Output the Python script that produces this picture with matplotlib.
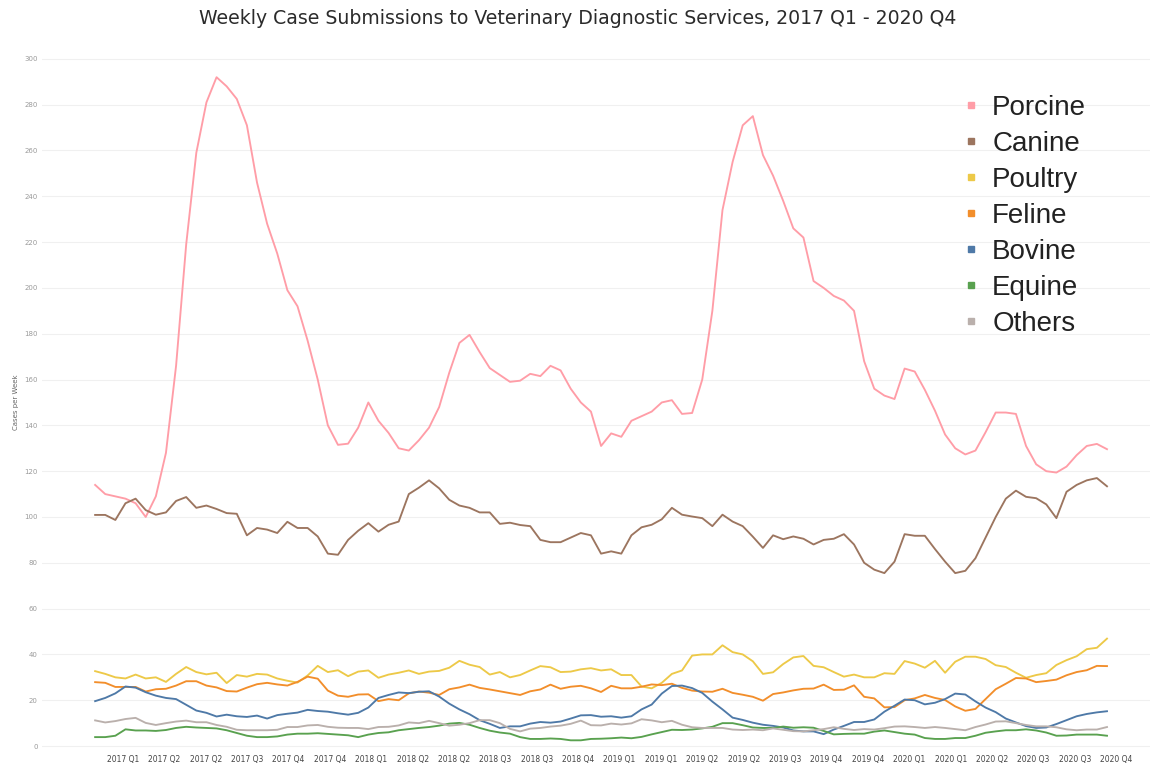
import numpy as np
import matplotlib
matplotlib.use("Agg")
import matplotlib.pyplot as plt
from matplotlib.lines import Line2D

# ---- data: fortnightly samples of weekly case counts (week index 0..200) ----
weeks = np.arange(0, 201, 2)

porcine = [114, 110, 109, 108, 106, 100, 109, 128, 166, 219,
           259, 281, 292, 288, 282.5, 271, 246, 228, 215, 199,
           192, 177, 160, 140, 131.5, 132, 139, 150, 142, 136.7,
           130, 129, 133.5, 139, 148, 163, 176, 179.5, 172, 165,
           162, 159, 159.5, 162.5, 161.5, 166, 164, 156, 150, 146,
           131, 136.5, 135, 142, 144, 146, 150, 151, 145, 145.4,
           160, 190, 234, 255, 271, 275, 258, 249, 238, 226,
           222, 203, 200, 196.5, 194.5, 190, 168, 156, 153, 151.5,
           164.8, 163.5, 155.5, 146.4, 136, 130, 127.3, 129, 137, 145.6,
           145.6, 145, 131, 123, 120, 119.4, 122, 127, 131, 131.9,
           129.6]

canine = [100.9, 100.9, 98.7, 106, 108, 103, 101, 102, 107, 108.7,
          104, 105, 103.5, 101.7, 101.4, 92, 95.2, 94.5, 93, 97.9,
          95.2, 95.2, 91.5, 84, 83.5, 90, 94, 97.3, 93.6, 96.6,
          98, 110, 112.8, 116, 112.5, 107.5, 105, 104, 102, 102,
          97, 97.5, 96.5, 96, 90, 89, 89, 91, 93, 92,
          84, 85, 84, 92, 95.5, 96.6, 99, 104, 101, 100.2,
          99.5, 96, 101, 98, 96, 91.4, 86.5, 92, 90.3, 91.5,
          90.5, 88, 90, 90.5, 92.5, 88, 80, 77, 75.5, 80.5,
          92.5, 91.8, 91.8, 86, 80.5, 75.5, 76.5, 82, 91, 100,
          108, 111.5, 108.8, 108.2, 105.5, 99.5, 111, 114, 116, 117,
          113.4]

poultry = [32.7, 31.5, 30, 29.5, 31.2, 29.5, 30, 28, 31.5, 34.5,
           32.3, 31.3, 32, 27.5, 31, 30.3, 31.5, 31.2, 29.5, 28.5,
           27.7, 30.8, 35, 32.3, 33.1, 30.5, 32.5, 33, 29.8, 31.2,
           32, 33, 31.5, 32.5, 32.8, 34.2, 37.2, 35.5, 34.5, 31.2,
           32.3, 30, 31, 33, 34.9, 34.4, 32.3, 32.5, 33.5, 34,
           33, 33.5, 31, 31, 26, 25.2, 27.6, 31.5, 33, 39.5,
           40, 40, 44, 41, 40, 37, 31.5, 32.2, 35.8, 38.7,
           39.3, 35, 34.4, 32.3, 30.3, 31.2, 30, 30, 31.8, 31.5,
           37.1, 36, 34.2, 37.2, 32, 36.8, 39, 39, 38, 35.3,
           34.5, 32, 29.8, 31, 31.8, 35.4, 37.5, 39.2, 42.3, 42.9,
           46.9]

feline = [27.9, 27.6, 25.8, 25.8, 25.8, 23.8, 24.8, 25, 26.4, 28.3,
          28.3, 26.4, 25.6, 24, 23.8, 25.5, 27, 27.6, 26.9, 26.4,
          28, 30.3, 29.4, 24.2, 22, 21.5, 22.5, 22.6, 19.6, 20.5,
          20, 23, 23.8, 23.3, 22.3, 24.8, 25.6, 26.8, 25.4, 24.7,
          23.9, 23.1, 22.3, 23.9, 24.7, 26.8, 25, 25.9, 26.3, 25.2,
          23.6, 26.3, 25.2, 25.2, 25.9, 26.9, 26.6, 27.2, 25.4, 24.2,
          23.8, 23.7, 25, 23.2, 22.4, 21.5, 19.8, 22.7, 23.4, 24.3,
          25, 25.1, 26.8, 24.5, 24.6, 26.5, 21.5, 20.8, 16.9, 17,
          20, 20.8, 22.3, 21, 20.1, 17.3, 15.4, 16.2, 20.5, 24.8,
          27.2, 29.7, 29.5, 27.9, 28.4, 29, 30.9, 32.3, 33.1, 35,
          34.9]

bovine = [19.6, 21, 23, 26, 25.5, 23.5, 22, 21, 20.5, 18,
          15.5, 14.5, 12.9, 13.7, 13, 12.7, 13.3, 12, 13.5, 14.1,
          14.6, 15.8, 15.3, 15, 14.3, 13.7, 14.5, 16.8, 21, 22.3,
          23.4, 23.1, 23.7, 23.9, 21.6, 18.5, 16, 13.9, 11.3, 9.7,
          7.9, 8.6, 8.6, 9.8, 10.5, 10.2, 10.7, 12, 13.4, 13.5,
          12.8, 13, 12.4, 13, 16, 18.1, 22.9, 26.2, 26.4, 25.3,
          23.2, 19.4, 16, 12.4, 11.4, 10.2, 9.3, 8.8, 8.1, 6.8,
          6.4, 6.4, 5.2, 7.2, 8.8, 10.5, 10.5, 11.6, 15, 17.6,
          20.3, 20, 18.2, 18.9, 20.5, 22.9, 22.5, 19.5, 16.8, 14.8,
          12, 10.3, 8.7, 7.9, 8.1, 9.6, 11.3, 13, 14, 14.7,
          15.2]

equine = [3.9, 3.9, 4.5, 7.3, 6.8, 6.8, 6.6, 7, 7.9, 8.4,
          8.1, 7.9, 7.7, 6.9, 5.7, 4.5, 3.9, 3.9, 4.2, 5,
          5.4, 5.4, 5.6, 5.3, 5, 4.7, 3.9, 5, 5.7, 6,
          6.9, 7.4, 7.9, 8.3, 8.9, 9.8, 10.1, 9.3, 7.9, 6.7,
          5.9, 5.4, 3.9, 3.1, 3.1, 3.3, 3.1, 2.5, 2.5, 3.1,
          3.2, 3.4, 3.7, 3.4, 4, 5.1, 6.1, 7.1, 7, 7.2,
          7.7, 8.4, 10, 10, 9.1, 8.1, 7.9, 7.9, 8.5, 8,
          8.2, 8, 6.6, 5.1, 5.3, 5.4, 5.4, 6.3, 6.8, 6.1,
          5.4, 5, 3.5, 3.1, 3.1, 3.5, 3.5, 4.5, 5.8, 6.4,
          6.9, 6.9, 7.3, 6.8, 5.9, 4.5, 4.6, 5, 5, 5,
          4.5]

others = [11.2, 10.3, 10.9, 11.8, 12.3, 10.1, 9.2, 10, 10.7, 11.1,
          10.4, 10.4, 9.2, 8.4, 7.1, 6.9, 6.9, 6.9, 7.1, 8.3,
          8.3, 9, 9.2, 8.4, 8, 7.9, 7.9, 7.4, 8.3, 8.4,
          9, 10.3, 10, 11, 10, 8.9, 9.3, 10, 11.3, 11.3,
          10, 7.5, 6.4, 7.6, 7.9, 8.5, 8.9, 9.7, 11.1, 9.1,
          9, 9.8, 9.4, 9.9, 11.7, 11.2, 10.4, 11, 9.3, 8.2,
          7.9, 7.9, 7.9, 7.2, 7, 7.2, 6.9, 7.7, 7.1, 6.5,
          6.4, 6.9, 7.4, 8.2, 7.5, 7, 7.4, 7.2, 7.8, 8.5,
          8.6, 8.3, 7.9, 8.3, 7.9, 7.4, 6.9, 8.3, 9.4, 10.7,
          10.8, 10, 9.2, 8.6, 8.6, 8.2, 7.3, 6.9, 7.2, 7.2,
          8.3]

series_names = ["Porcine", "Canine", "Poultry", "Feline", "Bovine", "Equine", "Others"]
series_values = [porcine, canine, poultry, feline, bovine, equine, others]
series_colors = ["#ff9da7", "#9c755f", "#edc948", "#f28e2b", "#4e79a7", "#59a14f", "#bab0ac"]

tick_labels = ["2017 Q1", "2017 Q2", "2017 Q2", "2017 Q3", "2017 Q4", "2017 Q4",
               "2018 Q1", "2018 Q2", "2018 Q2", "2018 Q3", "2018 Q3", "2018 Q4",
               "2019 Q1", "2019 Q1", "2019 Q2", "2019 Q2", "2019 Q3", "2019 Q4",
               "2019 Q4", "2020 Q1", "2020 Q1", "2020 Q2", "2020 Q3", "2020 Q3",
               "2020 Q4"]
y_ticks = list(range(0, 301, 20))

# ---- figure ----
W, H = 1155, 765
fig = plt.figure(figsize=(W / 100, H / 100), dpi=100)
ax = fig.add_axes([42 / W, 1 - 752 / H, (1150 - 42) / W, (752 - 52) / H])

for name, vals, col in zip(series_names, series_values, series_colors):
    ax.plot(weeks, vals, color=col, lw=1.35, solid_joinstyle="round", label=name)

ax.set_xlim(-10.5, 208.5)
ax.set_ylim(-2.6, 303)

tick_pos = 5.5 + 8.18 * np.arange(len(tick_labels))
ax.set_xticks(tick_pos)
ax.set_xticklabels(tick_labels, fontsize=5.5, color="#444444")
ax.set_yticks(y_ticks)
ax.set_yticklabels([str(v) for v in y_ticks], fontsize=5, color="#9a9a9a")
ax.tick_params(axis="both", length=0, pad=3)
ax.tick_params(axis="x", pad=2)

ax.grid(axis="y", color="#f0f0f0", lw=0.8)
ax.set_axisbelow(True)
for s in ax.spines.values():
    s.set_visible(False)

ax.set_ylabel("Cases per Week", fontsize=5, color="#666666", labelpad=4)

fig.text(0.5, 1 - 18 / H, "Weekly Case Submissions to Veterinary Diagnostic Services, 2017 Q1 - 2020 Q4",
         ha="center", va="center", fontsize=13.6, color="#2b2b2b")

handles = [Line2D([], [], marker="s", linestyle="", color=c, markersize=5) for c in series_colors]
leg = ax.legend(handles, series_names, loc="upper left",
                bbox_to_anchor=(963 / W, 1 - 95 / H), bbox_transform=fig.transFigure,
                frameon=False, labelspacing=0.36, handlelength=0.6,
                handletextpad=0.45, borderpad=0, borderaxespad=0,
                prop={"family": "Liberation Sans", "size": 20})
for t in leg.get_texts():
    t.set_color("#222222")

fig.savefig("out.png", dpi=100, facecolor="white")
